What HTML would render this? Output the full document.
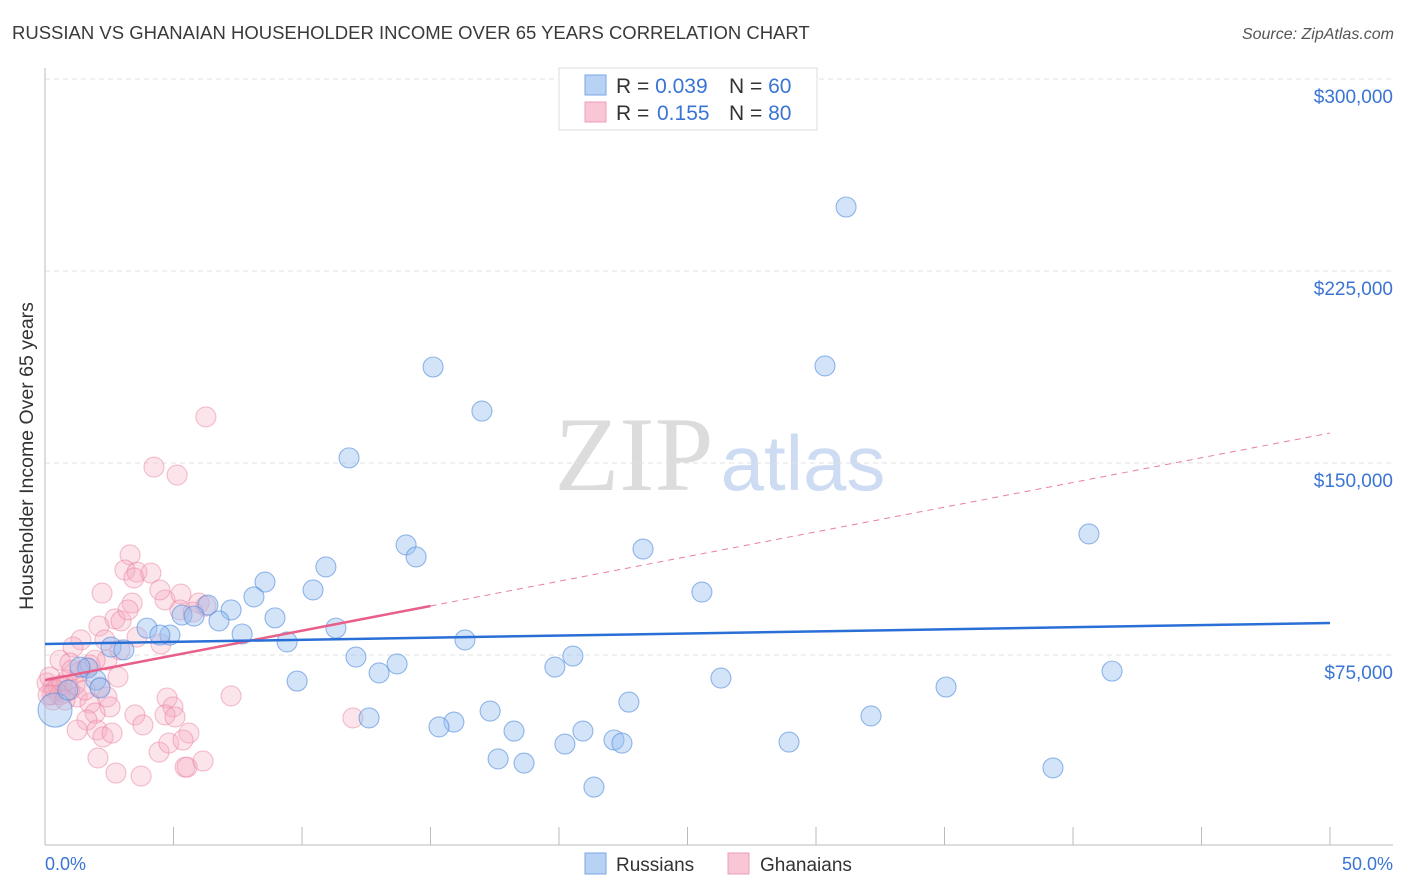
<!DOCTYPE html>
<html><head><meta charset="utf-8"><style>
body{margin:0;background:#fff;font-family:"Liberation Sans",sans-serif;}
svg{display:block}
</style></head><body>
<svg id="chart" width="1406" height="892" xmlns="http://www.w3.org/2000/svg">
<text x="12" y="39" font-size="18.5" fill="#3a3a3a">RUSSIAN VS GHANAIAN HOUSEHOLDER INCOME OVER 65 YEARS CORRELATION CHART</text>
<text x="1394" y="39" font-size="16" fill="#555" font-style="italic" text-anchor="end">Source: ZipAtlas.com</text>
<text transform="translate(33,456) rotate(-90)" font-size="19.5" fill="#333" text-anchor="middle">Householder Income Over 65 years</text>
<g>
<text x="634" y="490" font-size="106" fill="#dcdcdc" font-family="Liberation Serif,serif" text-anchor="middle">ZIP</text>
<text x="803" y="490" font-size="78" fill="#cddcf2" text-anchor="middle">atlas</text>
</g>
<g id="grid"></g>
<g id="axes"></g>
<g id="marks"></g>
<g>
<rect x="559" y="68" width="258" height="62" fill="#fff" stroke="#ddd"/>
<rect x="585" y="75" width="21" height="20" fill="#b8d2f4" stroke="#7aa6e4"/>
<rect x="585" y="102" width="21" height="20" fill="#f9c6d5" stroke="#ec9fb7"/>
<text x="616" y="93" font-size="21" fill="#333">R = <tspan fill="#3a74d4">0.039</tspan><tspan x="729">N = </tspan><tspan fill="#3a74d4">60</tspan></text>
<text x="616" y="120" font-size="21" fill="#333">R = <tspan x="657" fill="#3a74d4">0.155</tspan><tspan x="729">N = </tspan><tspan fill="#3a74d4">80</tspan></text>
</g>
<g>
<rect x="585" y="853" width="21" height="21" fill="#b8d2f4" stroke="#7aa6e4"/>
<text x="616" y="871" font-size="19" fill="#333">Russians</text>
<rect x="728" y="853" width="21" height="21" fill="#f9c6d5" stroke="#ec9fb7"/>
<text x="760" y="871" font-size="19" fill="#333">Ghanaians</text>
</g>
<text x="45" y="870" font-size="18" fill="#3a74d4">0.0%</text>
<text x="1393" y="870" font-size="18" fill="#3a74d4" text-anchor="end">50.0%</text>
</svg>
<script>
const yTicks=[75000,150000,225000,300000];
const yTickLabels=["$75,000","$150,000","$225,000","$300,000"];
const xTicks=[0,5,10,15,20,25,30,35,40,45,50];
const russiansX=[31.17,15.10,30.35,17.00,11.83,40.62,14.05,14.44,23.27,10.93,8.56,25.56,8.13,10.43,7.24,6.34,5.33,8.95,6.77,3.97,4.86,5.80,7.67,11.32,16.34,9.42,2.57,3.07,4.47,12.10,13.70,13.00,19.84,20.54,41.52,26.30,9.81,35.06,22.72,17.32,12.61,15.91,15.33,18.25,20.93,22.14,22.45,20.23,28.95,32.14,17.63,18.64,39.22,21.36,1.67,1.98,0.39,0.89,1.36,2.14];
const russiansY=[250.0,187.5,187.9,170.3,152.0,122.3,118.0,113.3,116.4,109.4,103.5,99.6,97.7,100.4,92.6,94.5,90.6,89.5,88.3,85.5,82.8,90.2,83.2,85.5,80.9,80.1,78.1,77.0,82.8,74.2,71.5,68.0,70.3,74.6,68.7,66.0,64.8,62.5,56.6,53.1,50.4,48.8,46.9,45.3,45.3,41.8,40.6,40.2,41.0,51.2,34.4,32.8,30.9,23.4,69.9,65.2,53.5,61.3,70.3,62.1];
const ghanaiansX=[3.31,3.11,3.58,3.46,4.12,2.22,3.39,4.67,5.29,5.25,5.99,6.26,2.72,2.96,2.10,1.40,1.09,4.51,3.58,0.58,0.97,1.63,2.41,2.84,0.31,0.78,1.25,2.14,2.41,1.75,2.53,1.95,1.63,1.25,2.02,2.26,2.61,2.06,2.76,3.74,3.50,3.81,4.75,4.98,4.67,5.06,5.60,4.44,4.82,5.45,5.53,6.15,7.24,0.31,0.08,0.19,0.51,0.86,1.36,6.26,4.24,5.14,11.98,0.39,0.58,0.66,0.97,1.17,1.56,0.27,0.12,1.75,1.95,2.33,2.92,0.78,1.05,3.23,4.47,5.37,5.76];
const ghanaiansY=[114.1,108.2,107.4,105.1,107.0,99.2,95.3,96.5,98.8,92.6,95.3,94.1,89.1,88.3,86.3,80.9,78.1,79.3,82.0,73.0,71.9,69.9,73.0,66.4,62.5,60.2,58.6,62.5,58.6,56.2,54.7,52.3,49.6,45.7,45.7,43.0,44.5,34.8,28.9,27.7,51.6,47.7,58.2,54.7,51.6,50.8,44.5,37.1,40.6,31.2,31.2,33.6,59.0,57.4,64.1,66.4,62.5,65.2,68.4,168.0,148.4,145.3,50.4,61.3,59.4,63.3,61.3,63.3,61.3,59.4,59.4,71.1,73.0,80.9,77.0,57.4,69.1,92.6,100.4,41.8,91.8];
const russiansTrend=[79.3,87.5];
const ghanaiansTrend=[65.2,161.7];

const NS="http://www.w3.org/2000/svg";
const X0=45,X1=1330,Y0=847,PXPER=192/75000;
function xs(v){return X0+(v/50)*(X1-X0);}
function ys(k){return Y0-k*PXPER;}
function mk(tag,attrs,parent){const e=document.createElementNS(NS,tag);for(const k in attrs)e.setAttribute(k,attrs[k]);parent.appendChild(e);return e;}
const grid=document.getElementById('grid'),axes=document.getElementById('axes'),marks=document.getElementById('marks');
yTicks.forEach((t,i)=>{
  const y=ys(t);
  const l=mk('line',{x1:X0,x2:1393,y1:y,y2:y,stroke:'#e2e2e2','stroke-dasharray':'5,4'},grid);
  
  
  const tx=mk('text',{x:1393,y:y+24,'font-size':19,fill:'#3a74d4','text-anchor':'end'},grid);
  tx.textContent=yTickLabels[i];
  
  
});
const ya=mk('line',{x1:X0,x2:X0,y1:68,y2:845,stroke:'#bbb'},axes);


const xa=mk('line',{x1:X0,x2:1393,y1:845,y2:845,stroke:'#bbb'},axes);


xTicks.forEach(t=>{
  const tk=mk('line',{x1:xs(t),x2:xs(t),y1:827,y2:845,stroke:'#bbb'},axes);
  
  
});
function pts(X,Y,fill,stroke,name){
  X.forEach((x,i)=>{
    const big=(name==='russian-point'&&i===56);
    const c=mk('circle',{cx:xs(x),cy:ys(Y[i]*1000),r:big?17:10,fill:fill,stroke:stroke,'stroke-width':1.1},marks);
    
    
  });
}
pts(ghanaiansX,ghanaiansY,'rgba(246,170,192,0.32)','rgba(232,130,160,0.5)','ghanaian-point');
pts(russiansX,russiansY,'rgba(150,190,240,0.42)','rgba(80,138,220,0.6)','russian-point');
const gMid=ghanaiansTrend[0]+(ghanaiansTrend[1]-ghanaiansTrend[0])*0.3;
const gd=mk('line',{x1:xs(15),y1:ys(gMid*1000),x2:xs(50),y2:ys(ghanaiansTrend[1]*1000),stroke:'#e8809f','stroke-width':1,'stroke-dasharray':'6,5'},marks);


const gs=mk('line',{x1:xs(0),y1:ys(ghanaiansTrend[0]*1000),x2:xs(15),y2:ys(gMid*1000),stroke:'#e8608a','stroke-width':2.5},marks);


const rt=mk('line',{x1:xs(0),y1:ys(russiansTrend[0]*1000),x2:xs(50),y2:ys(russiansTrend[1]*1000),stroke:'#2a6fd6','stroke-width':2.5},marks);


</script>
</body></html>
